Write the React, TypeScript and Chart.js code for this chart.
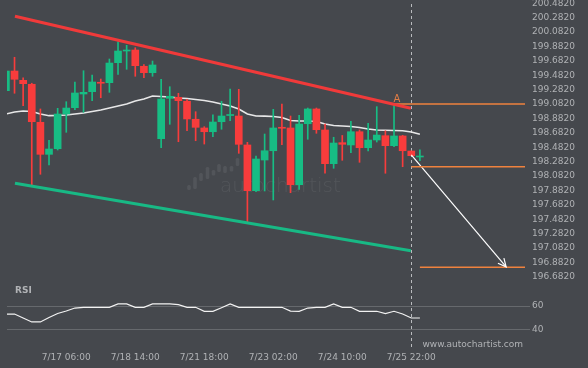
import React, { useEffect, useRef } from 'react';
import { Chart, registerables } from 'chart.js';

Chart.register(...registerables);

// ---------- data ----------
const opens = [
  199.267, 199.540, 199.411, 199.356, 198.828, 198.383, 198.461, 198.943, 199.031, 199.221,
  199.253, 199.383, 199.378, 199.656, 199.818, 199.832, 199.606, 199.517, 198.600, 199.161,
  199.175, 199.120, 198.870, 198.749, 198.697, 198.836, 198.922, 198.915, 198.513, 197.878,
  198.304, 198.433, 198.758, 198.749, 197.961, 198.808, 199.013, 198.721, 198.253, 198.545,
  198.513, 198.697, 198.475, 198.582, 198.642, 198.503, 198.638, 198.429, 198.346,
];
const closes = [
  199.540, 199.425, 199.364, 198.836, 198.383, 198.457, 198.943, 199.026, 199.235, 199.244,
  199.388, 199.370, 199.651, 199.818, 199.832, 199.614, 199.517, 199.624, 199.151, 199.189,
  199.128, 198.874, 198.758, 198.697, 198.832, 198.915, 198.933, 198.522, 197.878, 198.318,
  198.433, 198.749, 198.745, 197.961, 198.804, 199.013, 198.725, 198.253, 198.540, 198.522,
  198.697, 198.475, 198.582, 198.651, 198.503, 198.638, 198.433, 198.364, 198.360,
];
const highs = [
  199.554, 199.731, 199.447, 199.370, 199.013, 198.578, 199.022, 199.114, 199.388, 199.544,
  199.485, 199.429, 199.707, 199.947, 199.897, 199.864, 199.628, 199.679, 199.425, 199.322,
  199.231, 199.147, 198.975, 198.767, 198.933, 199.120, 199.290, 199.286, 198.550, 198.360,
  198.665, 199.008, 199.082, 198.915, 198.925, 199.026, 199.026, 198.804, 198.620, 198.645,
  198.842, 198.721, 198.814, 199.045, 198.711, 199.082, 198.647, 198.429, 198.447,
];
const lows = [
  199.263, 199.231, 199.058, 197.947, 198.106, 198.235, 198.443, 198.689, 199.003, 198.967,
  199.128, 199.169, 199.244, 199.494, 199.564, 199.467, 199.447, 199.467, 198.475, 198.800,
  198.558, 198.711, 198.572, 198.526, 198.628, 198.731, 198.850, 198.397, 197.433, 197.864,
  197.874, 197.749, 198.517, 197.850, 197.897, 198.592, 198.675, 198.120, 198.189, 198.300,
  198.406, 198.272, 198.429, 198.554, 198.120, 198.489, 198.211, 198.364, 198.294,
];
const maValues = [
  198.943, 198.971, 198.985, 198.978, 198.943, 198.920, 198.922, 198.929, 198.943, 198.957,
  198.978, 198.999, 199.026, 199.054, 199.082, 199.124, 199.151, 199.193, 199.186, 199.179,
  199.165, 199.158, 199.145, 199.131, 199.110, 199.082, 199.054, 199.013, 198.943, 198.915,
  198.913, 198.908, 198.895, 198.853, 198.846, 198.846, 198.839, 198.804, 198.783, 198.776,
  198.770, 198.756, 198.735, 198.721, 198.717, 198.714, 198.711, 198.693, 198.661,
];
const rsiValues = [
  53.3, 53.3, 50.0, 46.7, 46.7, 50.4, 53.8, 55.8, 58.3, 58.9,
  58.9, 58.9, 58.9, 61.7, 61.7, 58.9, 58.9, 61.7, 61.7, 61.7,
  61.2, 58.9, 58.9, 55.6, 55.6, 58.6, 61.7, 58.9, 58.9, 58.9,
  58.9, 58.9, 58.9, 55.8, 55.6, 58.3, 58.9, 58.9, 61.7, 58.9,
  58.9, 55.6, 55.6, 55.6, 53.6, 55.6, 53.3, 50.0, 50.0,
];
const priceTicks = [
  196.682, 196.882, 197.082, 197.282, 197.482, 197.682, 197.882, 198.082, 198.282, 198.482,
  198.682, 198.882, 199.082, 199.282, 199.482, 199.682, 199.882, 200.082, 200.282, 200.482,
];
const rsiTicks = [40, 60];
const timeTickIndex = [7, 15, 23, 31, 39, 47];
const timeLabels = ['7/17 06:00', '7/18 14:00', '7/21 18:00', '7/23 02:00', '7/24 10:00', '7/25 22:00'];

const resistanceLine = [{ x: 1.05, y: 200.300 }, { x: 46.95, y: 199.022 }];
const supportLine = [{ x: 1.05, y: 197.981 }, { x: 46.95, y: 197.045 }];
const breakoutLevel = [{ x: 45, y: 199.082 }, { x: 62, y: 199.082 }];
const currentLevel = [{ x: 47, y: 198.211 }, { x: 62, y: 198.211 }];
const targetLevel = [{ x: 48, y: 196.814 }, { x: 62, y: 196.814 }];
const forecastArrow = [{ x: 47, y: 198.374 }, { x: 58, y: 196.82 }];
const currentBar = 47;
const patternLabel = 'A';
const patternPoint = { x: 45, y: 199.082 };

// ---------- styles ----------
const BG = '#45484d';
const GREEN = '#17bd84';
const RED = '#f83c3c';
const TREND_RED = '#f03a3a';
const TREND_GREEN = '#18b985';
const ORANGE = '#ef823e';
const TEXT = '#b0b2b5';
const GRID = '#66696d';
const FONT = "'DejaVu Sans', sans-serif";
const X_MIN = 0.1275;
const X_MAX = 60.186;
const AXIS_W = 63;

const candleColors = opens.map((o, i) => (closes[i] >= o ? GREEN : RED));

function xScale(display: boolean) {
  return {
    type: 'linear' as const,
    min: X_MIN,
    max: X_MAX,
    offset: false,
    display,
    grid: { display: false, drawTicks: false },
    border: { display: false },
    ticks: {
      color: TEXT,
      font: { family: FONT, size: 9 },
      padding: 2,
      autoSkip: false,
      maxRotation: 0,
      callback: (v: any) => {
        const k = timeTickIndex.indexOf(Number(v));
        return k >= 0 ? timeLabels[k] : '';
      },
    },
    afterBuildTicks: (s: any) => {
      s.ticks = timeTickIndex.map((v) => ({ value: v }));
    },
    afterFit: (s: any) => {
      s.height = display ? 18 : 0;
      s.paddingLeft = 0;
      s.paddingRight = 0;
    },
  };
}

const priceOverlay = {
  id: 'priceOverlay',
  beforeDatasetsDraw(chart: any) {
    const { ctx, chartArea, scales } = chart;
    ctx.save();
    // watermark logo
    ctx.fillStyle = 'rgba(255,255,255,0.075)';
    const bars = [
      [189, 185, 190], [195, 177, 189], [201, 173, 181], [207.5, 167, 179], [213.5, 170, 175.5],
      [219, 164, 172], [225, 166, 173], [231.5, 166, 171.5], [237.5, 158, 166],
    ];
    bars.forEach(([cx, t, b]) => {
      ctx.beginPath();
      (ctx as any).roundRect ? ctx.roundRect(cx - 1.8, t, 3.6, b - t, 1.5) : ctx.rect(cx - 1.8, t, 3.6, b - t);
      ctx.fill();
    });
    ctx.font = `300 20px ${FONT}`;
    ctx.textAlign = 'left';
    ctx.textBaseline = 'middle';
    ctx.fillText('autochartist', 220, 187);
    // dashed current bar line
    const cx = Math.round(scales.x.getPixelForValue(currentBar)) + 0.5;
    ctx.strokeStyle = '#b9bbbe';
    ctx.lineWidth = 1;
    ctx.setLineDash([3, 3]);
    ctx.beginPath();
    ctx.moveTo(cx, chartArea.top + 4);
    ctx.lineTo(cx, chartArea.bottom);
    ctx.stroke();
    ctx.restore();
  },
  afterDatasetsDraw(chart: any) {
    const { ctx, scales } = chart;
    ctx.save();
    ctx.fillStyle = '#e07c45';
    ctx.font = `10px ${FONT}`;
    ctx.textAlign = 'center';
    ctx.textBaseline = 'alphabetic';
    ctx.fillText(patternLabel, scales.x.getPixelForValue(patternPoint.x) + 3, scales.y.getPixelForValue(patternPoint.y) - 2);
    // arrow head
    const meta = chart.getDatasetMeta(5);
    const pts = meta.data;
    if (pts && pts.length >= 2) {
      const a = pts[pts.length - 2];
      const b = pts[pts.length - 1];
      const ang = Math.atan2(b.y - a.y, b.x - a.x);
      const len = 9;
      ctx.strokeStyle = '#ffffff';
      ctx.lineWidth = 1.2;
      ctx.beginPath();
      ctx.moveTo(b.x - len * Math.cos(ang - 0.45), b.y - len * Math.sin(ang - 0.45));
      ctx.lineTo(b.x, b.y);
      ctx.lineTo(b.x - len * Math.cos(ang + 0.45), b.y - len * Math.sin(ang + 0.45));
      ctx.stroke();
    }
    ctx.restore();
  },
};

const rsiOverlay = {
  id: 'rsiOverlay',
  beforeDatasetsDraw(chart: any) {
    const { ctx, chartArea, scales } = chart;
    ctx.save();
    const cx = Math.round(scales.x.getPixelForValue(currentBar)) + 0.5;
    ctx.strokeStyle = '#b9bbbe';
    ctx.lineWidth = 1;
    ctx.setLineDash([3, 3]);
    ctx.beginPath();
    ctx.moveTo(cx, chartArea.top + 10);
    ctx.lineTo(cx, chartArea.bottom);
    ctx.stroke();
    ctx.restore();
  },
  afterDraw(chart: any) {
    const { ctx } = chart;
    ctx.save();
    ctx.fillStyle = TEXT;
    ctx.font = `bold 9px ${FONT}`;
    ctx.textAlign = 'left';
    ctx.textBaseline = 'middle';
    ctx.fillText('RSI', 15, 11);
    ctx.font = `9px ${FONT}`;
    ctx.textAlign = 'right';
    ctx.fillText('www.autochartist.com', 523, 65);
    ctx.restore();
  },
};

export default function App() {
  const priceRef = useRef<HTMLCanvasElement>(null);
  const rsiRef = useRef<HTMLCanvasElement>(null);

  useEffect(() => {
    const lineDs = (data: any[], color: string, width: number) => ({
      type: 'line' as const,
      data,
      borderColor: color,
      borderWidth: width,
      pointRadius: 0,
      fill: false,
      tension: 0,
    });

    const price = new Chart(priceRef.current as HTMLCanvasElement, {
      type: 'bar',
      data: {
        datasets: [
          { ...lineDs(resistanceLine, TREND_RED, 3), order: 0 },
          { ...lineDs(supportLine, TREND_GREEN, 3), order: 0 },
          { ...lineDs(breakoutLevel, ORANGE, 1.5), order: 1 },
          { ...lineDs(currentLevel, ORANGE, 1.5), order: 1 },
          { ...lineDs(targetLevel, ORANGE, 1.5), order: 1 },
          { ...lineDs(forecastArrow, '#ffffff', 1.2), order: 1 },
          {
            type: 'bar' as const,
            data: opens.map((o, i) => ({ x: i, y: [o, closes[i]] })) as any,
            backgroundColor: candleColors,
            barThickness: 7,
            minBarLength: 1,
            grouped: false,
            borderWidth: 0,
            order: 2,
          },
          {
            type: 'bar' as const,
            data: highs.map((h, i) => ({ x: i, y: [lows[i], h] })) as any,
            backgroundColor: candleColors,
            barThickness: 1,
            minBarLength: 1,
            grouped: false,
            borderWidth: 0,
            order: 3,
          },
          { ...lineDs(maValues.map((v, i) => ({ x: i, y: v })), 'rgba(240,240,240,0.95)', 1.6), order: 4 },
        ] as any,
      },
      options: {
        responsive: false,
        animation: false,
        events: [],
        layout: { padding: { left: 7, right: 0, top: 0, bottom: 0 } },
        plugins: { legend: { display: false }, tooltip: { enabled: false } },
        scales: {
          x: xScale(false) as any,
          y: {
            type: 'linear',
            position: 'right',
            min: 196.4987,
            max: 200.5264,
            beginAtZero: false,
            grid: { display: false, drawTicks: false },
            border: { display: false },
            ticks: {
              color: TEXT,
              font: { family: FONT, size: 9 },
              padding: 7,
              autoSkip: false,
              callback: (v: any) => Number(v).toFixed(4),
            },
            afterBuildTicks: (s: any) => {
              s.ticks = priceTicks.map((v) => ({ value: v }));
            },
            afterFit: (s: any) => {
              s.width = AXIS_W;
              s.paddingTop = 0;
              s.paddingBottom = 0;
            },
          } as any,
        },
      },
      plugins: [priceOverlay],
    });

    const rsi = new Chart(rsiRef.current as HTMLCanvasElement, {
      type: 'line',
      data: {
        datasets: [
          {
            data: rsiValues.map((v, i) => ({ x: i, y: v })),
            borderColor: '#f2f2f2',
            borderWidth: 1.2,
            pointRadius: 0,
            fill: false,
            tension: 0,
          },
        ],
      },
      options: {
        responsive: false,
        animation: false,
        events: [],
        layout: { padding: { left: 7, right: 0, top: 0, bottom: 0 } },
        plugins: { legend: { display: false }, tooltip: { enabled: false } },
        scales: {
          x: xScale(true) as any,
          y: {
            type: 'linear',
            position: 'right',
            min: 23.333,
            max: 81.667,
            grid: { color: GRID, lineWidth: 1, drawTicks: true, tickLength: 5 },
            border: { display: false },
            ticks: {
              color: TEXT,
              font: { family: FONT, size: 9 },
              padding: 2,
              autoSkip: false,
              callback: (v: any) => String(v),
            },
            afterBuildTicks: (s: any) => {
              s.ticks = rsiTicks.map((v) => ({ value: v }));
            },
            afterFit: (s: any) => {
              s.width = AXIS_W;
              s.paddingTop = 0;
              s.paddingBottom = 0;
            },
          } as any,
        },
      },
      plugins: [rsiOverlay],
    });

    return () => {
      price.destroy();
      rsi.destroy();
    };
  }, []);

  return (
    <div
      style={{
        position: 'absolute',
        left: 0,
        top: 0,
        width: 588,
        height: 368,
        background: BG,
        overflow: 'hidden',
      }}
    >
      <canvas ref={priceRef} width={588} height={290} style={{ position: 'absolute', left: 0, top: 0 }} />
      <canvas ref={rsiRef} width={588} height={88} style={{ position: 'absolute', left: 0, top: 280 }} />
    </div>
  );
}
